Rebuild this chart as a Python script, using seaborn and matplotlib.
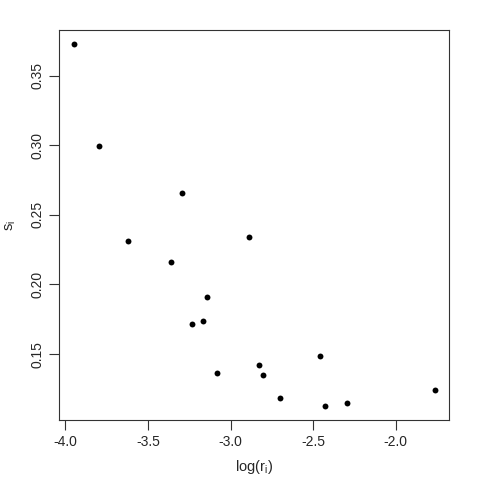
import matplotlib
matplotlib.use('Agg')
import matplotlib.pyplot as plt
import seaborn as sns
import pandas as pd

log_r = [-3.950, -3.795, -3.623, -3.295, -3.361, -2.891, -3.145, -3.232, -3.166,
         -3.081, -2.829, -2.803, -2.698, -2.458, -2.426, -2.296, -1.762]
s_i = [0.3725, 0.2998, 0.2316, 0.2659, 0.2159, 0.2343, 0.1912, 0.1719, 0.1740,
       0.1367, 0.1418, 0.1353, 0.1183, 0.1484, 0.1130, 0.1147, 0.1240]
x_ticks = [-4.0, -3.5, -3.0, -2.5, -2.0]
y_ticks = [0.15, 0.20, 0.25, 0.30, 0.35]

df = pd.DataFrame({'log_r': log_r, 's': s_i})

sns.set_style('white')
plt.rcParams['font.family'] = ['Liberation Sans', 'DejaVu Sans']
plt.rcParams['mathtext.fontset'] = 'custom'
plt.rcParams['mathtext.rm'] = 'Liberation Sans'
plt.rcParams['mathtext.it'] = 'Liberation Sans'

fig = plt.figure(figsize=(4.8, 4.8), dpi=100)
ax = fig.add_axes([0.1235, 0.125, 0.8125, 0.8125])
sns.scatterplot(data=df, x='log_r', y='s', ax=ax, color='black', s=18,
                edgecolor='black', linewidth=0)

# R-style 4% padding
xr = max(log_r) - min(log_r)
yr = max(s_i) - min(s_i)
ax.set_xlim(min(log_r) - 0.04 * xr, max(log_r) + 0.04 * xr)
ax.set_ylim(min(s_i) - 0.04 * yr, max(s_i) + 0.04 * yr)

ax.set_xticks(x_ticks)
ax.set_xticklabels(['%.1f' % v for v in x_ticks])
ax.set_yticks(y_ticks)
ax.set_yticklabels(['%.2f' % v for v in y_ticks], rotation=90, va='center')
ax.tick_params(axis='both', direction='out', length=7, width=0.8, color='#333333',
               labelsize=10, bottom=True, left=True, pad=4)
for sp in ax.spines.values():
    sp.set_color('#333333')
    sp.set_linewidth(0.8)

ax.set_xlabel(r'$\mathregular{log(r_i)}$', fontsize=10.5, labelpad=6)
ax.set_ylabel(r'$\mathregular{s_i}$', fontsize=10.5, labelpad=9)

fig.savefig('out.png', dpi=100)
